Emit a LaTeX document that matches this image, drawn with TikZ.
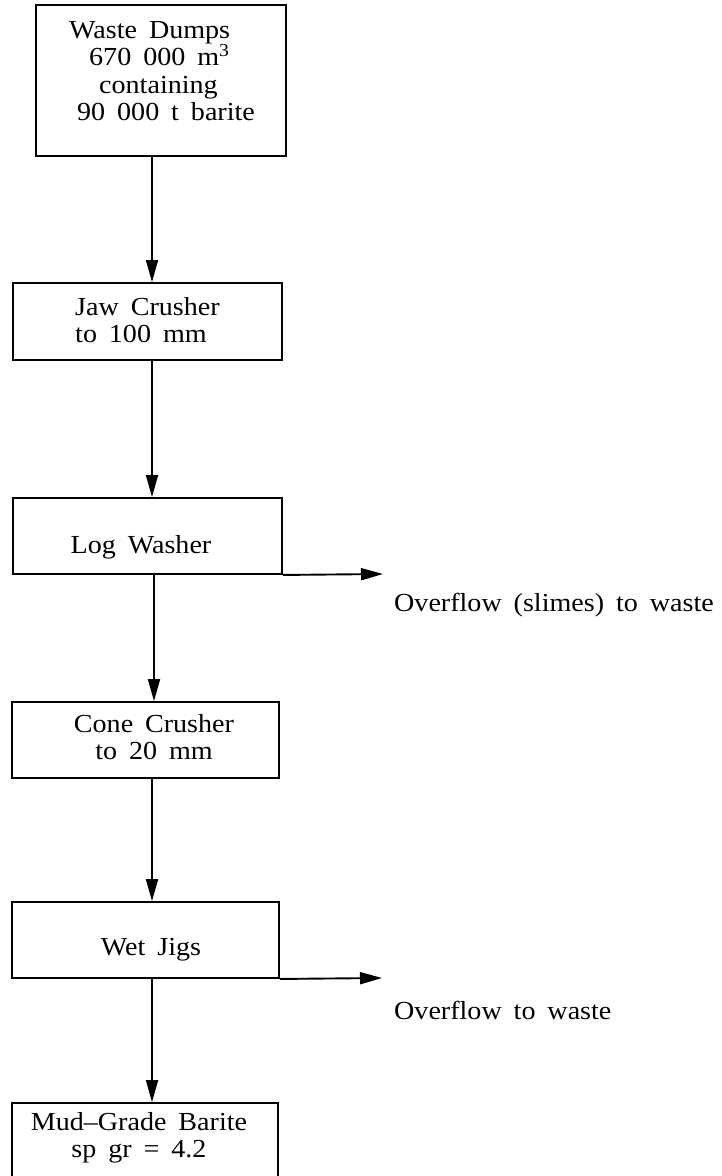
\documentclass[tikz,border=0pt]{standalone}
\usepackage{fontspec}
\setmainfont{Liberation Serif}[FakeStretch=1.08,WordSpace=1.7]
\usetikzlibrary{arrows.meta}
\begin{document}
\begin{tikzpicture}[x=1pt,y=-1pt,
  box/.style={draw, line width=1.9pt, inner sep=0pt, rectangle},
  txt/.style={inner sep=0pt, font=\fontsize{26}{27.5}\selectfont},
  arr/.style={line width=1.9pt, -{Triangle[length=22pt,width=12pt]}}]
\useasboundingbox (0,0) rectangle (722,1176);
\clip (0,0) rectangle (722,1176);
% boxes
\node[box, minimum width=250pt, minimum height=151pt] (dumps) at (161,80.5) {};
\node[box, minimum width=269pt, minimum height=77pt] (jaw) at (147.5,321.5) {};
\node[box, minimum width=269pt, minimum height=76pt] (log) at (147.5,536) {};
\node[box, minimum width=267pt, minimum height=76pt] (cone) at (145.5,740) {};
\node[box, minimum width=267pt, minimum height=76pt] (jigs) at (145.5,940) {};
\node[box, minimum width=266pt, minimum height=147pt] (mud) at (145,1176.5) {};
% texts
\node[txt, align=left, anchor=west] (tdumps) at (69,71) {Waste Dumps\\\hspace*{20pt}670 000 m\textsuperscript{3}\\\hspace*{30pt}containing\\\hspace*{8pt}90 000 t barite};
\node[txt, align=left, anchor=west] (tjaw) at (75,320) {Jaw Crusher\\to 100 mm};
\node[txt] (tlog) at (141,547) {Log Washer};
\node[txt, align=center] (tcone) at (154,737) {Cone Crusher\\to 20 mm};
\node[txt] (tjigs) at (151,950) {Wet Jigs};
\node[txt, align=center] (tmud) at (139,1138) {Mud--Grade Barite\\sp gr = 4.2};
\node[txt, anchor=west] (over1) at (394,605) {Overflow (slimes) to waste};
\node[txt, anchor=west] (over2) at (394,1010) {Overflow to waste};
% connectors
\draw[arr] (152,0 |- dumps.south) -- (152,0 |- jaw.north);
\draw[arr] (152,0 |- jaw.south) -- (152,0 |- log.north);
\draw[arr] (154,0 |- log.south) -- (154,0 |- cone.north);
\draw[arr] (152,0 |- cone.south) -- (152,0 |- jigs.north);
\draw[arr] (152,0 |- jigs.south) -- (152,0 |- mud.north);
\coordinate (o1) at (383,574);
\coordinate (o2) at (382,978);
\draw[arr] (log.south east) -- (o1);
\draw[arr] (jigs.south east) -- (o2);
\end{tikzpicture}
\end{document}
